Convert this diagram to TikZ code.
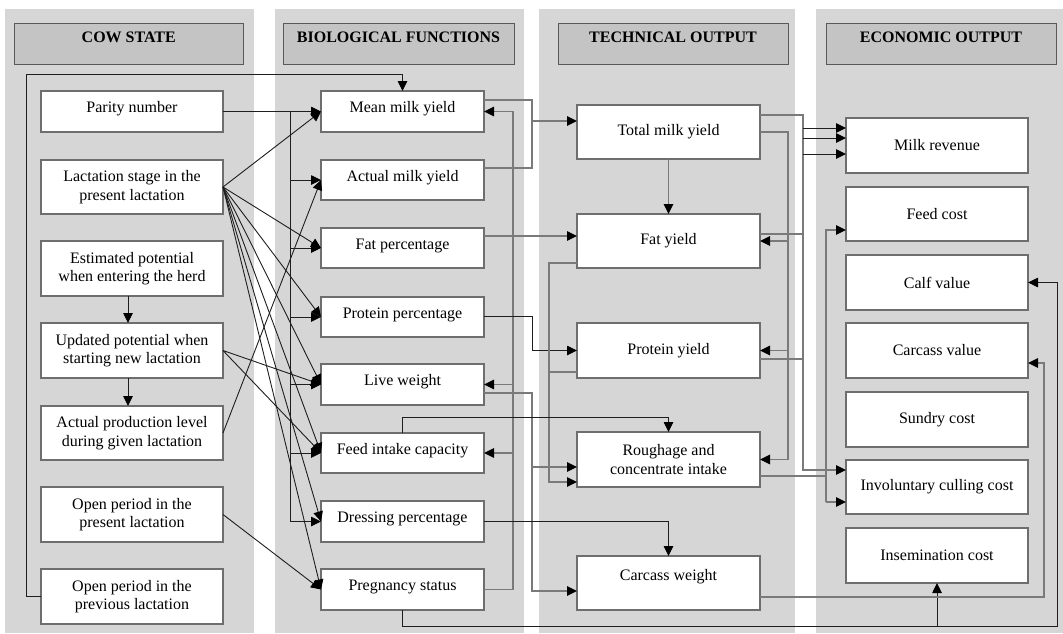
\documentclass[tikz,border=0pt]{standalone}
\usepackage{fontspec}
\setmainfont{Liberation Serif}
\usetikzlibrary{arrows.meta}
\definecolor{panelgray}{HTML}{D6D6D6}
\definecolor{headgray}{HTML}{C4C4C4}
\definecolor{boxborder}{HTML}{6E6E6E}
\definecolor{lgray}{HTML}{7A7A7A}
\definecolor{ldark}{HTML}{1E1E1E}
\begin{document}
\begin{tikzpicture}[x=1pt,y=-1pt,
  box/.style={draw=boxborder, line width=1.2pt, fill=white, inner sep=0pt, outer sep=0pt, align=center, font=\fontsize{16pt}{18.5pt}\selectfont},
  one/.style={text height=11pt, text depth=9pt},
  c1/.style={box, minimum width=182pt},
  c2/.style={box, one, minimum width=163pt},
  c3/.style={box, minimum width=183pt},
  c4/.style={box, minimum width=182pt},
  head/.style={draw=black!65, line width=1pt, fill=headgray, inner sep=0pt, outer sep=0pt, minimum height=41pt, text height=11pt, text depth=13pt, font=\fontsize{16pt}{18.5pt}\selectfont\bfseries},
  ln/.style={draw=ldark, line width=0.9pt},
  gl/.style={draw=lgray, line width=1.3pt},
  arr/.style={ln, -{Triangle[length=10pt,width=9.5pt,color=black]}},
  garr/.style={gl, -{Triangle[length=10pt,width=9.5pt,color=black]}}
]
\useasboundingbox (0,0) rectangle (1063,633);
% panels
\fill[panelgray] (5,9) rectangle (254,633);
\fill[panelgray] (275,9) rectangle (524,633);
\fill[panelgray] (539,9) rectangle (795,633);
\fill[panelgray] (816,9) rectangle (1063,633);
% headers
\node[head, minimum width=228.5pt] (h1) at (128.75,43.5) {COW STATE};
\node[head, minimum width=231pt] (h2) at (398.5,43.5) {BIOLOGICAL FUNCTIONS};
\node[head, minimum width=230pt] (h3) at (673,43.5) {TECHNICAL OUTPUT};
\node[head, minimum width=230pt] (h4) at (941,43.5) {ECONOMIC OUTPUT};
% column 1
\node[c1, one, minimum height=41pt] (parity) at (132,111.5) {Parity number};
\node[c1, minimum height=54pt] (lact) at (132,187) {Lactation stage in the\\present lactation};
\node[c1, minimum height=55pt] (est) at (132,268.5) {Estimated potential\\when entering the herd};
\node[c1, minimum height=55pt] (upd) at (132,350.5) {Updated potential when\\starting new lactation};
\node[c1, minimum height=54pt] (act) at (132,433) {Actual production level\\during given lactation};
\node[c1, minimum height=55pt] (openp) at (132,514.5) {Open period in the\\present lactation};
\node[c1, minimum height=55pt] (openq) at (132,596.5) {Open period in the\\previous lactation};
% column 2
\node[c2, minimum height=41pt] (mmy) at (402.5,111.5) {Mean milk yield};
\node[c2, minimum height=40pt] (amy) at (402.5,180) {Actual milk yield};
\node[c2, minimum height=40pt] (fatp) at (402.5,248) {Fat percentage};
\node[c2, minimum height=40pt] (prot) at (402.5,317) {Protein percentage};
\node[c2, minimum height=41pt] (lw) at (402.5,384.5) {Live weight};
\node[c2, minimum height=40pt] (fic) at (402.5,453) {Feed intake capacity};
\node[c2, minimum height=41pt] (dress) at (402.5,521.5) {Dressing percentage};
\node[c2, minimum height=41pt] (preg) at (402.5,589.5) {Pregnancy status};
% column 3
\node[c3, minimum height=54pt] (tmy) at (668.5,132) {Total milk yield};
\node[c3, minimum height=54pt] (fy) at (668.5,241) {Fat yield};
\node[c3, minimum height=55pt] (py) at (668.5,350.5) {Protein yield};
\node[c3, minimum height=55pt] (rough) at (668.5,459.5) {Roughage and\\concentrate intake};
\node[c3, minimum height=54pt, text height=11pt, text depth=17pt] (cw) at (668.5,583) {Carcass weight};
% column 4
\node[c4, minimum height=55pt] (mr) at (937,145.5) {Milk revenue};
\node[c4, minimum height=54pt] (fc) at (937,214) {Feed cost};
\node[c4, minimum height=55pt] (cv) at (937,282.5) {Calf value};
\node[c4, minimum height=55pt] (carv) at (937,350.5) {Carcass value};
\node[c4, minimum height=55pt] (sc) at (937,419.5) {Sundry cost};
\node[c4, minimum height=54pt] (icc) at (937,487) {Involuntary culling cost};
\node[c4, minimum height=55pt] (ins) at (937,555.5) {Insemination cost};

% ---- cow state internal
\draw[arr] (openq.west) -- ++(-15,0) |- ([yshift=17pt]mmy.north) -- (mmy.north);
\draw[arr] ([xshift=-4pt]est.south) -- ([xshift=-4pt]upd.north);
\draw[arr] ([xshift=-4pt]upd.south) -- ([xshift=-4pt]act.north);

% ---- parity number
\coordinate (pj) at ([xshift=67pt]parity.east);
\draw[arr] (parity.east) -- (mmy.west);
\foreach \t in {amy,fatp,prot,lw,fic,dress}{\draw[arr] (pj) |- (\t.west);}

% ---- lactation stage
\foreach \t in {mmy,fatp,prot,lw,fic,dress,preg}{\draw[arr] (lact.east) -- (\t.west);}
% ---- updated potential
\draw[arr] (upd.east) -- (lw.west);
\draw[arr] (upd.east) -- (fic.west);
% ---- actual production level
\draw[arr] (act.east) -- (amy.west);
% ---- open period present
\draw[arr] (openp.east) -- (preg.west);

% ---- biological -> technical
\coordinate (j1) at ([xshift=-45pt,yshift=11pt]tmy.west);
\draw[gl] ([yshift=11.5pt]mmy.east) -| (j1);
\draw[gl] ([yshift=12pt]amy.east) -| (j1);
\draw[garr] (j1) -- ([yshift=11pt]tmy.west);

\coordinate (bx) at ([xshift=29pt]mmy.east);
\draw[garr] (preg.east) -| (bx) -- (mmy.east);
\draw[garr] (bx |- lw.east) -- (lw.east);
\draw[garr] (bx |- fic.east) -- (fic.east);

\draw[garr] ([yshift=12pt]fatp.east) -- ([yshift=5pt]fy.west);

\draw[arr] ([yshift=1pt]prot.east) -| ([xshift=-45pt]py.west) -- (py.west);

\draw[garr] ([yshift=-22pt]fy.west) -| ([xshift=-28pt,yshift=-22.5pt]rough.west) -- ([yshift=-22.5pt]rough.west);
\draw[gl] ([yshift=-21.5pt]py.west) -- ++(-28,0);

\draw[garr] ([yshift=-8.5pt]lw.east) -| ([xshift=-45pt,yshift=-8pt]cw.west) -- ([yshift=-8pt]cw.west);
\draw[garr] ([xshift=-45pt,yshift=-7.5pt]rough.west) -- ([yshift=-7.5pt]rough.west);

\draw[arr] (fic.north) -- ++(0,-16) -| (rough.north);
\draw[arr] (dress.east) -| (cw.north);

\coordinate (pb) at ([yshift=-16pt]preg.south);
\draw[arr] (preg.south) -- (pb) -| ([xshift=29pt]cv.east) -- (cv.east);
\draw[arr] (ins.south |- pb) -- (ins.south);

% ---- technical -> economic
\draw[garr] ([yshift=-14pt]cw.east) -| ([xshift=16pt,yshift=-12.5pt]carv.east) -- ([yshift=-12.5pt]carv.east);
\draw[garr] (tmy.south) -- (fy.north);

\draw[garr] ([yshift=17pt]tmy.east) -| ([xshift=-43pt,yshift=17pt]icc.west) -- ([yshift=17pt]icc.west);
\draw[gl] ([yshift=7pt]fy.east) -- ++(43,0);
\draw[gl] ([yshift=-8.5pt]py.east) -- ++(43,0);
\draw[arr] ([xshift=-43pt,yshift=17.5pt]mr.west) -- ([yshift=17.5pt]mr.west);
\draw[arr] ([xshift=-43pt,yshift=7.5pt]mr.west) -- ([yshift=7.5pt]mr.west);
\draw[arr] ([xshift=-43pt,yshift=-8.5pt]mr.west) -- ([yshift=-8.5pt]mr.west);

\draw[garr] (tmy.east) -| ([xshift=28pt]rough.east) -- (rough.east);
\draw[garr] ([xshift=28pt]fy.east) -- (fy.east);
\draw[garr] ([xshift=28pt]py.east) -- (py.east);

\draw[gl] ([yshift=-16.5pt]rough.east) -- ++(66,0);
\draw[garr] ([xshift=-20pt,yshift=-15pt]icc.west) |- ([yshift=-16pt]fc.west);
\draw[garr] ([xshift=-20pt,yshift=-15pt]icc.west) -- ([yshift=-15pt]icc.west);
\end{tikzpicture}
\end{document}
